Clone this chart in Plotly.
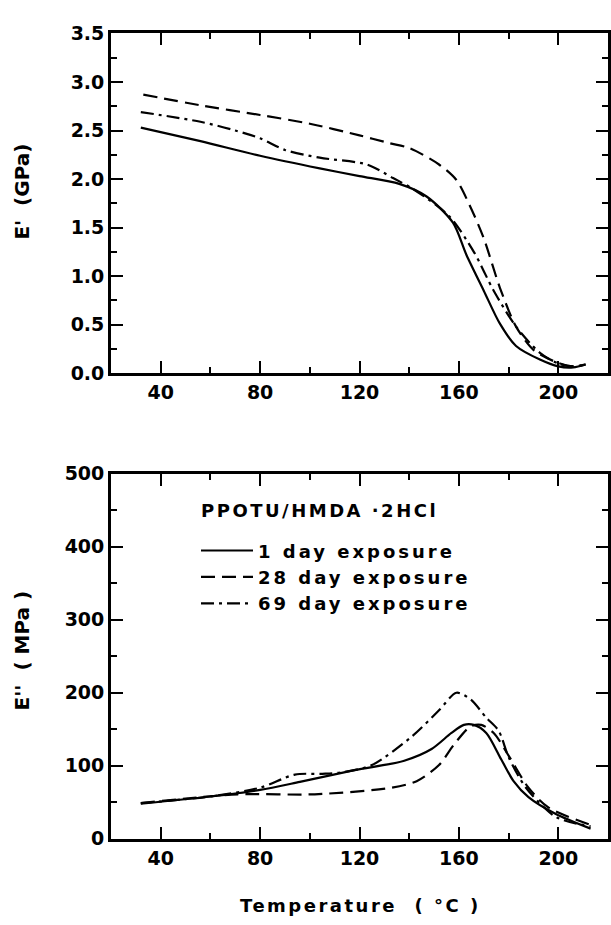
import plotly.graph_objects as go

# ---- data: storage modulus E' (GPa) ----
t_top_1 = [32, 56, 80, 104, 120, 136, 147, 157.6, 163, 170, 176.5, 183, 192.6, 200, 206, 211]
e_top_1 = [2.53, 2.39, 2.24, 2.11, 2.03, 1.95, 1.82, 1.55, 1.22, 0.85, 0.51, 0.28, 0.14, 0.07, 0.06, 0.09]
t_top_28 = [33, 56, 80, 100, 120, 132, 140, 152, 159, 164.5, 170, 176.5, 183, 190, 199.5, 206, 211]
e_top_28 = [2.87, 2.76, 2.66, 2.57, 2.45, 2.37, 2.32, 2.15, 1.99, 1.72, 1.39, 0.88, 0.48, 0.24, 0.11, 0.07, 0.09]
t_top_69 = [32, 56, 70, 80, 90, 104, 123, 133.5, 142, 156, 166, 174, 183, 192.6, 200, 206, 211]
e_top_69 = [2.69, 2.59, 2.50, 2.42, 2.30, 2.22, 2.15, 2.01, 1.89, 1.62, 1.25, 0.85, 0.48, 0.21, 0.10, 0.07, 0.09]

# ---- data: loss modulus E'' (MPa) ----
t_bot_1 = [32, 60, 80, 96, 118, 138, 149, 157, 162, 166, 171, 177, 182, 188, 199, 213]
e_bot_1 = [48, 58, 67, 78, 94, 107, 123, 145, 156, 156, 145, 109, 79, 57, 34, 14]
t_bot_28 = [32, 50, 71, 102, 133, 143, 152, 158, 164.7, 169, 174, 180, 188, 196, 213]
e_bot_28 = [49, 55, 61, 61, 70, 79, 101, 129, 154, 156, 145, 114, 70, 43, 19]
t_bot_69 = [32, 60, 80, 94, 105, 113, 125, 141, 152, 159, 164.7, 171, 176, 180, 187, 199, 213]
e_bot_69 = [49, 58, 70, 88, 89, 91, 101, 140, 176, 200, 191, 166, 148, 112, 70, 30, 17]

x_ticks = [40, 80, 120, 160, 200]
names = ["1 day exposure", "28 day exposure", "69 day exposure"]
legend_title = "PPOTU/HMDA ·2HCl"

W, H = 611, 925
FONT = "DejaVu Sans"
dash28 = "14px,7px"
dash69 = "13px,5px,3px,5px"

def ls(txt, sp):
    return f'<span style="letter-spacing:{sp}px">{txt}</span>'

fig = go.Figure()
styles = [("solid", 2.2), (dash28, 2.2), (dash69, 2.2)]
for (tx, ey), (d, w) in zip([(t_top_1, e_top_1), (t_top_28, e_top_28), (t_top_69, e_top_69)], styles):
    fig.add_trace(go.Scatter(x=tx, y=ey, mode="lines",
                             line=dict(color="black", width=w, dash=d, shape="spline", smoothing=0.8),
                             xaxis="x", yaxis="y", showlegend=False))
for (tx, ey), (d, w), nm in zip([(t_bot_1, e_bot_1), (t_bot_28, e_bot_28), (t_bot_69, e_bot_69)], styles, names):
    fig.add_trace(go.Scatter(x=tx, y=ey, mode="lines",
                             line=dict(color="black", width=w, dash=d, shape="spline", smoothing=0.8),
                             xaxis="x2", yaxis="y2", name=ls(nm, 3), showlegend=True))

axis_common = dict(showline=True, linewidth=2.8, linecolor="black", mirror="ticks", ticks="inside",
                   ticklen=12, tickwidth=2.2, tickcolor="black", showgrid=False, zeroline=False,
                   tickfont=dict(family=FONT, size=19, color="black", weight="bold"))
minor_common = dict(ticks="inside", ticklen=6, tickwidth=1.8, tickcolor="black")

xd = [111 / W, 608 / W]
fig.update_layout(
    width=W, height=H, margin=dict(l=0, r=0, t=0, b=0),
    paper_bgcolor="white", plot_bgcolor="white",
    xaxis=dict(domain=xd, range=[20, 220], tickvals=x_ticks, anchor="y",
               minor=dict(dtick=20, tick0=0, **minor_common), **axis_common),
    yaxis=dict(domain=[1 - 371 / H, 1 - 23 / H], range=[0, 3.5], dtick=0.5, tick0=0, tickformat=".1f", anchor="x",
               minor=dict(dtick=0.25, tick0=0, **minor_common), **axis_common),
    xaxis2=dict(domain=xd, range=[20, 220], tickvals=x_ticks, anchor="y2",
                minor=dict(dtick=20, tick0=0, **minor_common), **axis_common),
    yaxis2=dict(domain=[1 - 848 / H, 1 - 474 / H], range=[0, 500], dtick=100, tick0=0, anchor="x2",
                minor=dict(dtick=50, tick0=0, **minor_common), **axis_common),
    legend=dict(x=196 / W, y=1 - 534 / H, xanchor="left", yanchor="top", bgcolor="rgba(0,0,0,0)",
                font=dict(family=FONT, size=18, color="black", weight="bold"), tracegroupgap=0, itemwidth=52),
    annotations=[
        dict(text=ls(legend_title, 2.5), x=199 / W, y=1 - 512 / H, xref="paper", yref="paper", showarrow=False,
             xanchor="left", yanchor="middle", font=dict(family=FONT, size=18, color="black", weight="bold")),
        dict(text="E'  (GPa)", x=22 / W, y=1 - 185 / H, xref="paper", yref="paper", showarrow=False,
             xanchor="center", yanchor="middle",
             textangle=-90, font=dict(family=FONT, size=20, color="black", weight="bold")),
        dict(text="E''  ( MPa )", x=22 / W, y=1 - 655 / H, xref="paper", yref="paper", showarrow=False,
             xanchor="center", yanchor="middle",
             textangle=-90, font=dict(family=FONT, size=20, color="black", weight="bold")),
        dict(text=ls("Temperature  ( °C )", 2.5), x=360 / W, y=1 - 916 / H, xref="paper", yref="paper", showarrow=False,
             xanchor="center", yanchor="middle",
             font=dict(family=FONT, size=18, color="black", weight="bold")),
    ],
)

fig.write_html("out.html")
